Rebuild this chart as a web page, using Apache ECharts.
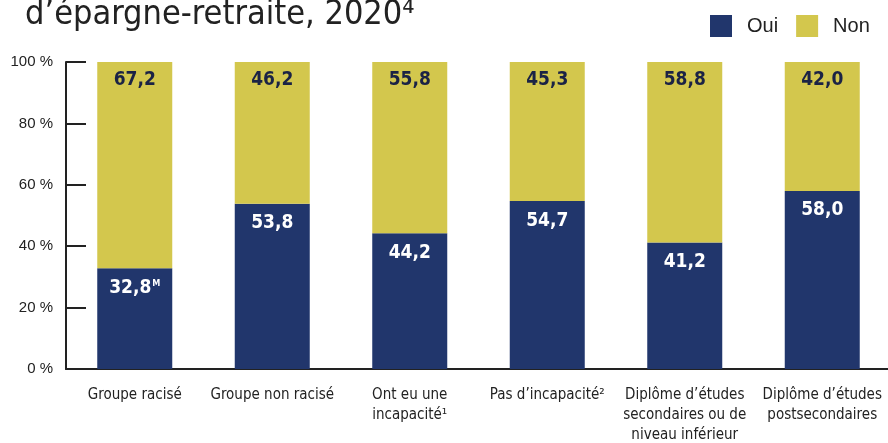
<!DOCTYPE html>
<html>
<head>
<meta charset="utf-8">
<script src="https://cdn.jsdelivr.net/npm/echarts@6/dist/echarts.min.js"></script>
<style>
  html, body { margin: 0; padding: 0; background: #fff; }
  #chart { width: 888px; height: 443px; }
</style>
</head>
<body>
<div id="chart"></div>
<script>
var categories = [
    'Groupe racisé',
    'Groupe non racisé',
    'Ont eu une\nincapacité¹',
    'Pas d’incapacité²',
    'Diplôme d’études\nsecondaires ou de\nniveau inférieur',
    'Diplôme d’études\npostsecondaires'
];
var oui = [32.8, 53.8, 44.2, 54.7, 41.2, 58.0];
var non = [67.2, 46.2, 55.8, 45.3, 58.8, 42.0];
var ouiNotes = ['M', '', '', '', '', ''];
var yTicks = [0, 20, 40, 60, 80, 100];

var narrow = "'Liberation Sans Narrow', 'DejaVu Sans Condensed', 'Roboto', sans-serif";
var navy = '#21366c';
var yellow = '#d3c74d';

function fmt(v) {
    return v.toFixed(1).replace('.', ',');
}

var myChart = echarts.init(document.getElementById('chart'));
var option = {
    animation: false,
    title: {
        text: 'd’épargne-retraite, 2020⁴',
        left: 20,
        top: -7,
        textStyle: {
            color: '#222',
            fontFamily: narrow,
            fontWeight: 'normal',
            fontSize: 34
        }
    },
    legend: {
        left: 705,
        top: 10,
        icon: 'rect',
        itemWidth: 22,
        itemHeight: 22,
        itemGap: 18,
        textStyle: {
            color: '#222',
            fontSize: 20,
            fontFamily: 'Liberation Sans',
            padding: [0, 0, 0, 10]
        },
        data: ['Oui', 'Non']
    },
    grid: {
        left: 66,
        top: 62,
        width: 825,
        bottom: 74,
        containLabel: false,
        outerBoundsMode: 'none'
    },
    xAxis: {
        type: 'category',
        data: categories,
        axisLine: { lineStyle: { color: '#222', width: 2 } },
        axisTick: { inside: true, length: 7, lineStyle: { color: '#222', width: 2 } },
        axisLabel: {
            color: '#222',
            fontFamily: narrow,
            fontSize: 15,
            lineHeight: 20,
            margin: 16,
            interval: 0
        }
    },
    yAxis: {
        type: 'value',
        min: 0,
        max: 100,
        interval: 20,
        axisLine: { show: true, lineStyle: { color: '#222', width: 2 } },
        axisTick: { show: true, inside: true, length: 20, lineStyle: { color: '#222', width: 2 } },
        splitLine: { show: false },
        axisLabel: {
            color: '#222',
            fontFamily: 'Liberation Sans',
            fontSize: 15,
            margin: 13,
            formatter: function (v) { return yTicks.indexOf(v) >= 0 ? v + ' %' : ''; }
        }
    },
    series: [{
        name: 'Oui',
        type: 'bar',
        stack: 'total',
        barWidth: 75,
        itemStyle: { color: navy },
        label: {
            show: true,
            position: 'insideTop',
            distance: 10,
            formatter: function (p) {
                var n = ouiNotes[p.dataIndex];
                return '{v|' + fmt(p.value) + '}' + (n ? '{s|' + n + '}' : '');
            },
            rich: {
                v: { color: '#fff', fontFamily: narrow, fontWeight: 'bold', fontSize: 19 },
                s: { color: '#fff', fontFamily: narrow, fontWeight: 'bold', fontSize: 9, padding: [0, 0, 9, 1] }
            }
        },
        data: oui
    }, {
        name: 'Non',
        type: 'bar',
        stack: 'total',
        barWidth: 75,
        itemStyle: { color: yellow },
        label: {
            show: true,
            position: 'insideTop',
            distance: 9,
            color: '#1b2345',
            fontFamily: narrow,
            fontWeight: 'bold',
            fontSize: 19,
            formatter: function (p) { return fmt(p.value); }
        },
        data: non
    }]
};
myChart.setOption(option);

window.onresize = function () {
    myChart.resize();
};
</script>
</body>
</html>
